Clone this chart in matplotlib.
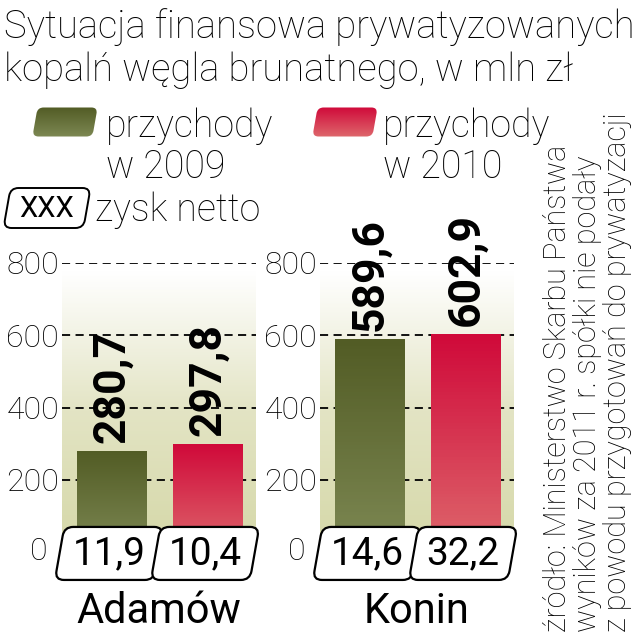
import numpy as np
import matplotlib.pyplot as plt
from matplotlib.patches import FancyBboxPatch
from matplotlib.transforms import Affine2D, ScaledTranslation
from matplotlib.colors import LinearSegmentedColormap

# dane (mln zl)
kopalnie = ["Adamów", "Konin"]
przychody_2009 = [280.7, 589.6]
przychody_2010 = [297.8, 602.9]
zysk_2009 = [11.9, 14.6]
zysk_2010 = [10.4, 32.2]
yticks = [200, 400, 600, 800]

tytul = ["Sytuacja finansowa prywatyzowanych", "kopalń węgla brunatnego, w mln zł"]
zrodlo = ["źródło: Ministerstwo Skarbu Państwa",
          "wyników za 2011 r. spółki nie podały",
          "z powodu przygotowań do prywatyzacji"]

plt.rcParams['font.family'] = ['Roboto', 'DejaVu Sans']

W, H = 642, 640
fig = plt.figure(figsize=(W / 100, H / 100), dpi=100)

cm_bg = LinearSegmentedColormap.from_list("bg", ["#d5d8a8", "#e3e4c4", "#ffffff"])
cm_g = LinearSegmentedColormap.from_list("g", ["#7d8853", "#525c25"])
cm_r = LinearSegmentedColormap.from_list("r", ["#de676c", "#d00a3a"])

def fx(x):
    return x / W

def fy(y):
    return 1 - y / H

def gradient_bar(ax, patch, cmap):
    x0, y0 = patch.get_x(), patch.get_y()
    w, h = patch.get_width(), patch.get_height()
    im = ax.imshow(np.linspace(1, 0, 64).reshape(-1, 1), cmap=cmap, aspect='auto',
                   extent=(x0, x0 + w, y0, y0 + h), zorder=2, vmin=0, vmax=1)
    im.set_clip_path(patch)

def skos_box(ax, x, y, trans, w, h, fc='white', ec='black', lw=1.6, r=0.09, z=5):
    # zaokraglony, pochylony prostokat (w calach)
    p = FancyBboxPatch((-w / 2, -h / 2), w, h,
                       boxstyle=f"round,pad=0,rounding_size={r}",
                       fc=fc, ec=ec, lw=lw, zorder=z, clip_on=False)
    p.set_transform(Affine2D().skew_deg(10, 0) + fig.dpi_scale_trans
                    + ScaledTranslation(x, y, trans))
    ax.add_patch(p)
    return p

dash = (0, (4.5, 3))
panele = [62, 320]
width = 0.72
xlim = (-0.52, 1.5)

for i, left in enumerate(panele):
    ax = fig.add_axes([fx(left), fy(552), fx(194), (552 - 263) / H])
    # tlo
    ax.imshow(np.linspace(1, 0, 100).reshape(-1, 1), cmap=cm_bg, aspect='auto',
              extent=(xlim[0], xlim[1], 0, 780), zorder=0, vmin=0, vmax=1)
    for t in yticks:
        ax.axhline(t, color='black', lw=1.3, ls=dash, zorder=1)
    ax.axhline(0, color='black', lw=1.3, ls=dash, zorder=1)

    b1 = ax.bar(0, przychody_2009[i], width, color='none', zorder=2)[0]
    b2 = ax.bar(1, przychody_2010[i], width, color='none', zorder=2)[0]
    gradient_bar(ax, b1, cm_g)
    gradient_bar(ax, b2, cm_r)

    for x, v in [(0, przychody_2009[i]), (1, przychody_2010[i])]:
        ax.text(x, v + 22, f"{v:.1f}".replace('.', ','), rotation=90,
                ha='center', va='bottom', fontsize=32, fontweight='bold', zorder=4)

    for x, z in [(0, zysk_2009[i]), (1, zysk_2010[i])]:
        skos_box(ax, x - 0.03, -4, ax.transData, 0.99, 0.53)
        ax.text(x - 0.03, -4, f"{z:.1f}".replace('.', ','), ha='center', va='center',
                fontsize=28, zorder=6)

    ax.set_xlim(*xlim)
    ax.set_ylim(0, 800)
    ax.set_yticks(yticks)
    ax.set_yticklabels([str(t) for t in yticks], fontsize=23, fontweight='light')
    ax.tick_params(axis='y', length=0, pad=2)
    ax.set_xticks([])
    for s in ax.spines.values():
        s.set_visible(False)
    ax.patch.set_visible(False)
    ax.text(-0.075, 0, "0", transform=ax.get_yaxis_transform(), ha='right', va='center',
            fontsize=23, fontweight='light')
    ax.text(0.5, -0.205, kopalnie[i], transform=ax.transAxes, ha='center', va='center',
            fontsize=30)

# nakladka w pikselach dla tytulu, legendy i zrodla
lax = fig.add_axes([0, 0, 1, 1])
lax.axis('off')

lax.text(4, 38, tytul[0], ha='left', va='baseline', fontsize=27.5, fontweight='light')
lax.text(4, 81, tytul[1], ha='left', va='baseline', fontsize=27.5, fontweight='light')

def swatch(x, y, cmap):
    p = FancyBboxPatch((-30, -14.5), 60, 29, boxstyle="round,pad=0,rounding_size=6",
                       fc='none', ec='none', clip_on=False)
    p.set_transform(Affine2D().skew_deg(-10, 0).translate(x, y) + lax.transData)
    lax.add_patch(p)
    im = lax.imshow(np.linspace(1, 0, 64).reshape(-1, 1), cmap=cmap, aspect='auto',
                    extent=(x - 40, x + 40, y + 15, y - 15), vmin=0, vmax=1)
    im.set_clip_path(p)

swatch(65, 122, cm_g)
swatch(345, 122, cm_r)
for x, rok in [(106, "w 2009"), (383, "w 2010")]:
    lax.text(x, 137, "przychody", ha='left', va='baseline', fontsize=27, fontweight='light')
    lax.text(x, 178, rok, ha='left', va='baseline', fontsize=27, fontweight='light')

p = FancyBboxPatch((-40, -20), 80, 40, boxstyle="round,pad=0,rounding_size=8",
                   fc='white', ec='black', lw=1.4, clip_on=False)
p.set_transform(Affine2D().skew_deg(-10, 0).translate(47, 208) + lax.transData)
lax.add_patch(p)
lax.text(47, 209, "XXX", ha='center', va='center', fontsize=21)
lax.text(95, 210, "zysk netto", ha='left', va='center', fontsize=27, fontweight='light')

# zrodlo
for x, s in zip([558, 588, 617], zrodlo):
    lax.text(x, 632, s, rotation=90, rotation_mode='anchor', ha='left', va='center',
             fontsize=22, fontweight='light')

lax.set_xlim(0, W)
lax.set_ylim(H, 0)

fig.savefig("out.png", dpi=100)
